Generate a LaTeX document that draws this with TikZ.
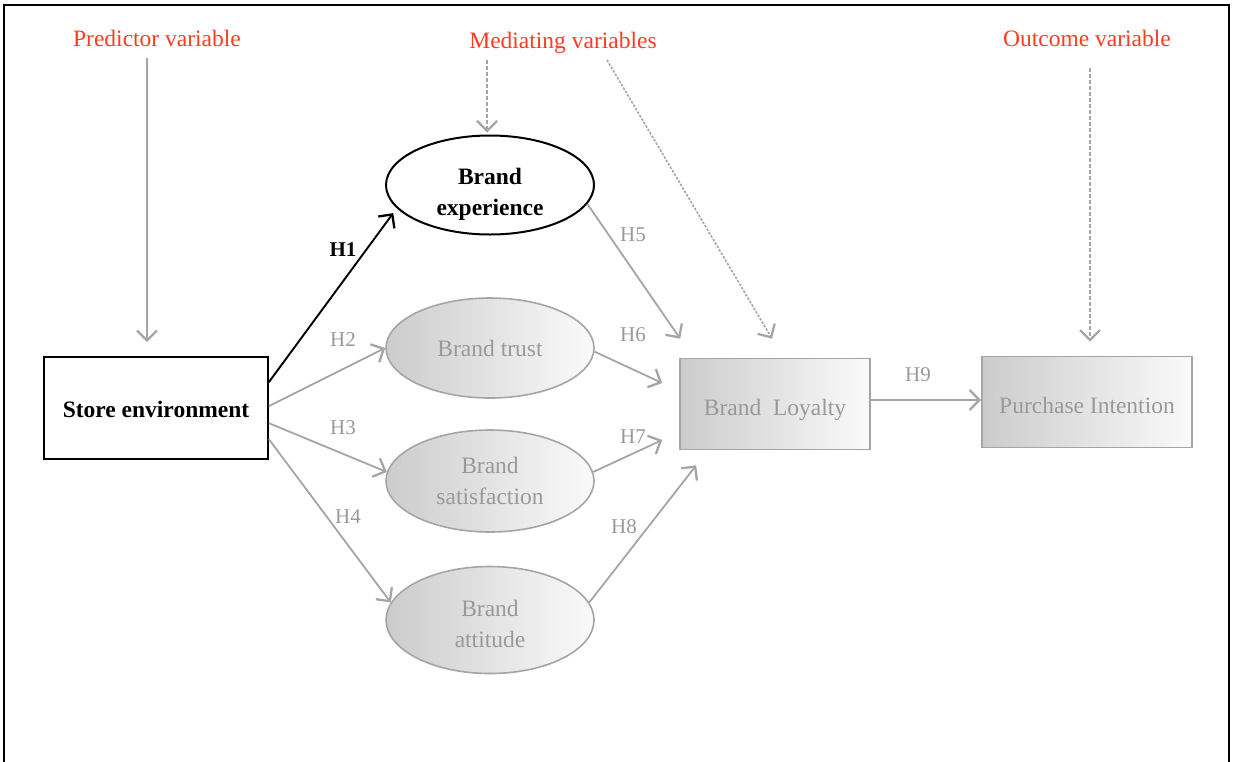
\documentclass[tikz,border=0pt]{standalone}
\usepackage{fontspec}
\setmainfont{Liberation Serif}
\usetikzlibrary{arrows.meta,calc,shapes.geometric}
\definecolor{headred}{HTML}{FF3B22}
\definecolor{linegray}{HTML}{A5A5A5}
\definecolor{textgray}{HTML}{999999}
\definecolor{shadedark}{HTML}{CCCCCC}
\definecolor{shadelight}{HTML}{FAFAFA}
\begin{document}
\begin{tikzpicture}[x=1pt,y=-1pt,
  font=\fontsize{23.5}{31}\selectfont,
  head/.style={text=headred, inner sep=0pt},
  hyp/.style={text=textgray, inner sep=0pt, font=\fontsize{21}{25}\selectfont},
  tip/.style={-{Straight Barb[length=10pt,width=20pt,line width=2.3pt]}},
  link/.style={tip, draw=linegray, line width=1.8pt},
  dashlink/.style={link, dash pattern=on 4pt off 2pt},
  dotlink/.style={tip, draw=linegray, line width=1.6pt, dash pattern=on 2.5pt off 1.5pt},
  whitebox/.style={rectangle, draw=black, line width=1.7pt, fill=white,
    minimum width=224pt, minimum height=102pt, inner sep=0pt},
  whiteoval/.style={ellipse, draw=black, line width=2pt, fill=white,
    minimum width=208pt, minimum height=99pt, inner sep=0pt, align=center},
  grayoval/.style={ellipse, draw=linegray, line width=1.6pt,
    left color=shadedark, right color=shadelight, text=textgray,
    minimum width=208pt, minimum height=100pt, inner sep=0pt, align=center},
  graybox/.style={rectangle, draw=linegray, line width=1.6pt,
    left color=shadedark, right color=shadelight, text=textgray,
    minimum height=91pt, inner sep=0pt}
]
\useasboundingbox (0,0) rectangle (1233,761);

% open frame (no bottom edge)
\draw[line width=2.5pt] (4,775) -- (4,5) -- (1229,5) -- (1229,775);

% column headings
\node[head] (pv) at (157,38) {Predictor variable};
\node[head] (mv) at (563,43) {Mediating variables};
\node[head] (ov) at (1087,38) {Outcome variable};

% constructs
\node[whitebox, text height=20pt] (se) at (156,408) {\bfseries Store environment};
\node[whiteoval, text height=65pt] (bx) at (490,185) {\bfseries Brand\\\bfseries experience};
\node[grayoval] (bt) at (490,348) {Brand trust};
\node[grayoval, minimum height=102pt] (bs) at (490,481) {Brand\\satisfaction};
\node[grayoval, minimum height=107pt, text height=55pt] (ba) at (490,620) {Brand\\attitude};
\node[graybox, minimum width=190pt, text height=28pt] (bl) at (775,404) {Brand\ \ Loyalty};
\node[graybox, minimum width=210pt, text height=24pt] (pi) at (1087,402) {Purchase Intention};

% heading pointers
\draw[link] ($(pv.center)+(-10,20)$) -- ($(se.north)+(-9,-14)$);
\draw[dashlink] ($(mv.center)+(-76,17)$) -- ($(bx.north)+(-3,-2)$);
\draw[dotlink] ($(mv.center)+(44,17)$) -- ($(bl.north)+(-3,-19)$);
\draw[dashlink] ($(ov.center)+(3,30)$) -- ($(pi.north)+(3,-14)$);

% hypotheses H1-H4
\draw[tip, draw=black, line width=1.9pt, shorten >=6pt]
  ($(se.north east)+(0,26)$) -- (bx.194);
\draw[link] ($(se.north east)+(0,50)$) -- (bt.west);
\draw[link] ($(se.north east)+(0,67)$) -- (bs.175);
\draw[link] ($(se.north east)+(0,83)$) -- (ba.170);

% hypotheses H5-H8
\draw[link] (bx.349) -- ($(bl.north west)+(1,-19)$);
\draw[link] (bt.358) -- ($(bl.west)+(-17,-21)$);
\draw[link] (bs.5) -- ($(bl.west)+(-17,36)$);
\draw[link] (ba.10) -- ($(bl.south west)+(17,15)$);

% hypothesis H9
\draw[link] ($(bl.east)+(0,-4)$) -- ($(pi.west)+(0,-2)$);

% hypothesis labels
\node[hyp, text=black, font=\fontsize{21}{25}\selectfont\bfseries] (h1) at (343,250) {H1};
\node[hyp] (h2) at (343,340) {H2};
\node[hyp] (h3) at (343,428) {H3};
\node[hyp] (h4) at (348,517) {H4};
\node[hyp] (h5) at (633,235) {H5};
\node[hyp] (h6) at (633,335) {H6};
\node[hyp] (h7) at (633,437) {H7};
\node[hyp] (h8) at (624,527) {H8};
\node[hyp] (h9) at (918,375) {H9};
\end{tikzpicture}
\end{document}
